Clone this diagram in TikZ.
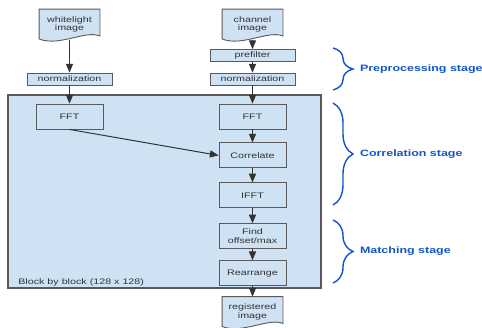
\documentclass[tikz,border=0pt]{standalone}
\usepackage{fontspec}
\setmainfont{Liberation Sans}
\newfontfamily\boxfont{Liberation Sans}[FakeStretch=1.34]
\usepackage{tikz}
\usetikzlibrary{arrows,positioning,decorations.pathreplacing,backgrounds}
\definecolor{boxblue}{HTML}{CFE2F3}
\definecolor{linegray}{HTML}{595959}
\definecolor{textgray}{HTML}{333333}
\definecolor{stageblue}{HTML}{1155CC}

\begin{document}
\begin{tikzpicture}[x=1pt,y=-1pt,->,>=triangle 45,line width=1pt,
                    node distance=13pt]
  \tikzstyle{box}=[draw=linegray,fill=boxblue,text=textgray,inner sep=0pt,
                   line width=0.9pt,minimum width=67pt,minimum height=25pt,
                   align=center,font=\boxfont\fontsize{8}{8.5}\selectfont]
  \tikzstyle{thin box}=[box,minimum width=85pt,minimum height=12pt]
  \tikzstyle{doc}=[box,draw=none,fill=none,minimum width=60pt,minimum height=30pt]
  \tikzstyle{docline}=[-,draw=linegray,fill=boxblue,line width=0.9pt]
  \tikzstyle{stagebrace}=[-,draw=stageblue,line width=1.4pt,decorate,
                          decoration={brace,amplitude=20pt}]
  \tikzstyle{stage}=[midway,anchor=west,xshift=23pt,text=stageblue,
                     font=\boxfont\bfseries\fontsize{9.3}{10}\selectfont]
  \tikzstyle{flow}=[color=textgray]

  \useasboundingbox (0,0) rectangle (482,327);

  % block by block area
  \node[box,minimum width=313pt,minimum height=193pt,line width=1.1pt] (block) at (164.5,191.5) {};
  \node[anchor=base west,text=textgray,font=\boxfont\fontsize{8}{8.5}\selectfont]
       (blocklab) at ([xshift=7pt,yshift=4pt]block.south west) {Block by block (128 x 128)};

  \node[doc]      (white)     at (69.5,24.5)  {whitelight\\image};
  \node[doc]      (chan)      at (252.5,24.5) {channel\\image};
  \node[thin box] (prefilter) at (252.5,55.5) {prefilter};
  \node[thin box] (normR)     at (252.5,79)   {normalization};
  \node[thin box] (normL)     at (69.5,79)    {normalization};
  \node[box]      (fftL)      at (69.5,116.5) {FFT};
  \node[box]      (fftR)      at (252.5,116.5) {FFT};
  \node[box]      (corr)  [below=13pt of fftR] {Correlate};
  \node[box]      (ifft)  [below=14pt of corr] {IFFT};
  \node[box]      (find)  [below=15pt of ifft] {Find\\offset/max};
  \node[box]      (rearr) [below=11pt of find] {Rearrange};
  \node[doc]      (reg)       at (252.5,312)  {registered\\image};

  % document outlines
  \begin{scope}[on background layer]
    \foreach \d in {white,chan,reg}
      \draw[docline] (\d.north west) -- (\d.north east) -- ([yshift=4pt]\d.south east)
        .. controls +(-15,-6) and +(20,8) .. ([yshift=1pt]\d.south west) -- cycle;
  \end{scope}

  \path[flow] (white)       edge (normL)
              (normL)       edge (fftL)
              (fftL.south)  edge (corr.west)
              (chan)        edge (prefilter)
              (prefilter)   edge (normR)
              (normR)       edge (fftR)
              (fftR)        edge (corr)
              (corr)        edge (ifft)
              (ifft)        edge (find)
              (find)        edge (rearr)
              (rearr)       edge (reg);

  % stage braces
  \coordinate (pre top)   at (333,48);
  \coordinate (pre bot)   at (333,90);
  \coordinate (corr top)  at (333,103);
  \coordinate (corr bot)  at (333,205);
  \coordinate (match top) at (333,220);
  \coordinate (match bot) at (333,283);

  \draw[stagebrace] (pre top)   -- (pre bot)   node[stage] {Preprocessing stage};
  \draw[stagebrace] (corr top)  -- (corr bot)  node[stage] {Correlation stage};
  \draw[stagebrace] (match top) -- (match bot) node[stage] {Matching stage};
\end{tikzpicture}
\end{document}
